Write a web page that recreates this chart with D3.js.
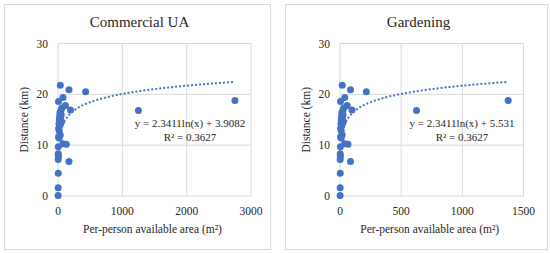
<!DOCTYPE html>
<html>
<head>
<meta charset="utf-8">
<script src="https://cdn.jsdelivr.net/npm/d3@7"></script>
<style>
  body { margin: 0; background: #fff; }
  svg text { font-family: "Liberation Serif", "Times New Roman", serif; fill: #262626; }
</style>
</head>
<body>
<script>
// data
let distance = [21.8, 20.9, 20.5, 19.4, 18.6, 18.8, 16.8, 17.8, 16.9, 17.3, 16.8, 16.4,
                16.0, 15.7, 15.3, 15.0, 14.6, 14.2, 13.8, 13.3, 12.8, 12.0, 11.6, 11.4,
                10.3, 10.2, 9.7, 8.3, 7.8, 7.2, 6.8, 4.5, 1.6, 0.1];
let areaCommercial = [36, 171, 430, 78, 8, 2750, 1250, 115, 195, 60, 45, 30,
                      50, 25, 40, 20, 55, 15, 30, 10, 20, 35, 8, 18,
                      75, 130, 5, 4, 6, 3, 171, 4, 3, 2];
let areaGardening = [18, 86, 215, 39, 4, 1375, 625, 58, 98, 30, 23, 15,
                     25, 13, 20, 10, 28, 8, 15, 5, 10, 18, 4, 9,
                     38, 65, 3, 2, 3, 1.5, 86, 2, 1.5, 1];
let yTicks = [0, 10, 20, 30];
let xTicksCommercial = [0, 1000, 2000, 3000];
let xTicksGardening = [0, 500, 1000, 1500];

let panels = [
  { title: "Commercial UA", area: areaCommercial, xTicks: xTicksCommercial,
    a: 2.3411, b: 3.9082, eq: "y = 2.3411ln(x) + 3.9082", r2: "R² = 0.3627",
    trendFrom: 70,
    box: [4.5, 4.5, 266, 245], xr: [58, 251], eqX: 190 },
  { title: "Gardening", area: areaGardening, xTicks: xTicksGardening,
    a: 2.3411, b: 5.531, eq: "y = 2.3411ln(x) + 5.531", r2: "R² = 0.3627",
    trendFrom: 35,
    box: [285.5, 4.5, 262, 245], xr: [340, 523.5], eqX: 462 }
];

let blue = "#4472C4", grid = "#d9d9d9";

let svg = d3.select("body").append("svg")
    .attr("width", 550)
    .attr("height", 253);

let y = d3.scaleLinear().domain([0, 30]).range([196, 43.5]);

panels.forEach(p => {
  let g = svg.append("g");
  let x = d3.scaleLinear().domain([0, d3.max(p.xTicks)]).range(p.xr);
  let cx = (p.box[0] + p.box[0] + p.box[2]) / 2;

  g.append("rect")
      .attr("x", p.box[0]).attr("y", p.box[1])
      .attr("width", p.box[2]).attr("height", p.box[3])
      .attr("fill", "#fff").attr("stroke", grid);

  // gridlines
  g.selectAll(".hg").data(yTicks).enter().append("line")
      .attr("x1", p.xr[0]).attr("x2", p.xr[1])
      .attr("y1", d => y(d)).attr("y2", d => y(d))
      .attr("stroke", grid);
  g.selectAll(".vg").data(p.xTicks).enter().append("line")
      .attr("x1", d => x(d)).attr("x2", d => x(d))
      .attr("y1", y(0)).attr("y2", y(30))
      .attr("stroke", grid);

  // tick labels
  g.selectAll(".yt").data(yTicks).enter().append("text")
      .attr("x", p.xr[0] - 10).attr("y", d => y(d) + 4)
      .attr("text-anchor", "end").attr("font-size", 11.5)
      .text(d => d);
  g.selectAll(".xt").data(p.xTicks).enter().append("text")
      .attr("x", d => x(d)).attr("y", 215)
      .attr("text-anchor", "middle").attr("font-size", 11.5)
      .text(d => d);

  // titles
  g.append("text").attr("x", cx + 2).attr("y", 27)
      .attr("text-anchor", "middle").attr("font-size", 15)
      .text(p.title);
  g.append("text")
      .attr("transform", `translate(${p.xr[0] - 30},${(y(0) + y(30)) / 2}) rotate(-90)`)
      .attr("text-anchor", "middle").attr("font-size", 11.5)
      .text("Distance (km)");
  g.append("text").attr("x", (p.xr[0] + p.xr[1]) / 2 - 2).attr("y", 233)
      .attr("text-anchor", "middle").attr("font-size", 11.5)
      .text("Per-person available area (m²)");

  // logarithmic trendline
  let hi = d3.max(p.area), lo = p.trendFrom;
  let pts = d3.range(0, 101).map(t => lo * Math.pow(hi / lo, t / 100));
  g.append("path")
      .attr("d", d3.line().x(d => x(d)).y(d => y(p.a * Math.log(d) + p.b))(pts))
      .attr("fill", "none").attr("stroke", blue)
      .attr("stroke-width", 2).attr("stroke-dasharray", "2,2");

  // points
  g.selectAll("circle").data(p.area).enter().append("circle")
      .attr("cx", d => x(d)).attr("cy", (d, i) => y(distance[i]))
      .attr("r", 3.5).attr("fill", blue);

  g.append("text").attr("x", p.eqX).attr("y", 127)
      .attr("text-anchor", "middle").attr("font-size", 11)
      .text(p.eq);
  g.append("text").attr("x", p.eqX).attr("y", 141)
      .attr("text-anchor", "middle").attr("font-size", 11)
      .text(p.r2);
});
</script>
</body>
</html>
